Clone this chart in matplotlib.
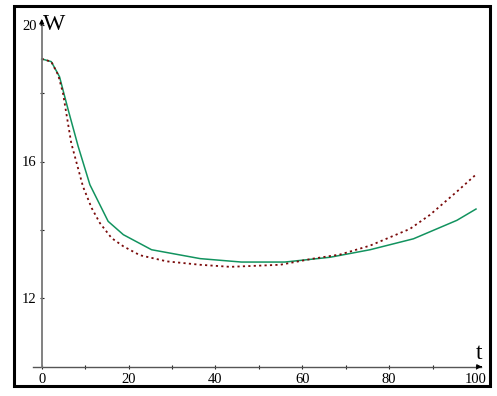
import matplotlib
matplotlib.use('Agg')
import matplotlib.pyplot as plt
from matplotlib.patches import Rectangle

plt.rcParams['font.family'] = ['Liberation Serif', 'DejaVu Serif']

# green solid curve
t_green = [0, 2.2, 4.1, 6.1, 8.4, 11.1, 15.3, 18.8, 25.3, 36.5, 46, 56, 66.4, 75.6, 85.6, 95.6, 100]
w_green = [19.0, 18.92, 18.48, 17.51, 16.44, 15.32, 14.25, 13.86, 13.42, 13.16, 13.06, 13.06, 13.2, 13.42, 13.74, 14.28, 14.61]

# dark red dotted curve
t_red = [0, 2.2, 3.8, 4.9, 6.8, 9.5, 11.5, 13.4, 16.1, 18.8, 22.6, 28.8, 36.5, 43.4, 54.9, 62.5, 68.7,
         75.6, 84.8, 89.4, 95.6, 100]
w_red = [19.0, 18.92, 18.53, 18.0, 16.54, 15.27, 14.64, 14.2, 13.76, 13.52, 13.26, 13.08, 12.98, 12.92,
         12.98, 13.16, 13.28, 13.54, 14.03, 14.44, 15.12, 15.62]

x_major = [0, 20, 40, 60, 80, 100]
x_minor = [10, 30, 50, 70, 90]
y_major = [12, 16, 20]
y_minor = [14, 18]

fig = plt.figure(figsize=(4.97, 3.96), dpi=100)
ax = fig.add_axes([41.7 / 497, 29.3 / 396, 434.3 / 497, 342.0 / 396])
ax.set_xlim(0, 100)
ax.set_ylim(10, 20)

ax.plot(t_green, w_green, color='#12935f', lw=1.1, clip_on=False)
ax.plot(t_red, w_red, color='#7a0a0a', lw=1.3, ls=(0, (1.2, 1.8)), clip_on=False)

for s in ax.spines.values():
    s.set_visible(False)

# axes with arrows
ax.plot([-2, 101.2], [10, 10], color='#555555', lw=1.0, clip_on=False)
ax.plot([0, 0], [10, 20.1], color='#777777', lw=1.3, clip_on=False)
ax.annotate('', xy=(102.0, 10), xytext=(100.5, 10), annotation_clip=False,
            arrowprops=dict(arrowstyle='-|>', color='black', lw=0.8, mutation_scale=7))
ax.annotate('', xy=(0, 20.25), xytext=(0, 19.9), annotation_clip=False,
            arrowprops=dict(arrowstyle='-|>', color='black', lw=0.8, mutation_scale=7))

ax.set_xticks(x_major)
ax.set_xticks(x_minor, minor=True)
ax.set_yticks(y_major)
ax.set_yticks(y_minor, minor=True)
ax.tick_params(which='both', direction='inout', length=3, width=0.8, color='#222222',
               labelsize=10.5, pad=2)
ax.tick_params(axis='x', pad=3)

ax.text(0.004, 1.0, 'W', transform=ax.transAxes, fontsize=17, va='center', ha='left')
ax.text(1.0, 0.022, 't', transform=ax.transAxes, fontsize=17, va='baseline', ha='left')

fig.patches.append(Rectangle((13.5 / 497, 10.5 / 396), 476 / 497, 380 / 396, transform=fig.transFigure,
                             fill=False, edgecolor='black', lw=2.2))

fig.savefig('out.png', dpi=100)
